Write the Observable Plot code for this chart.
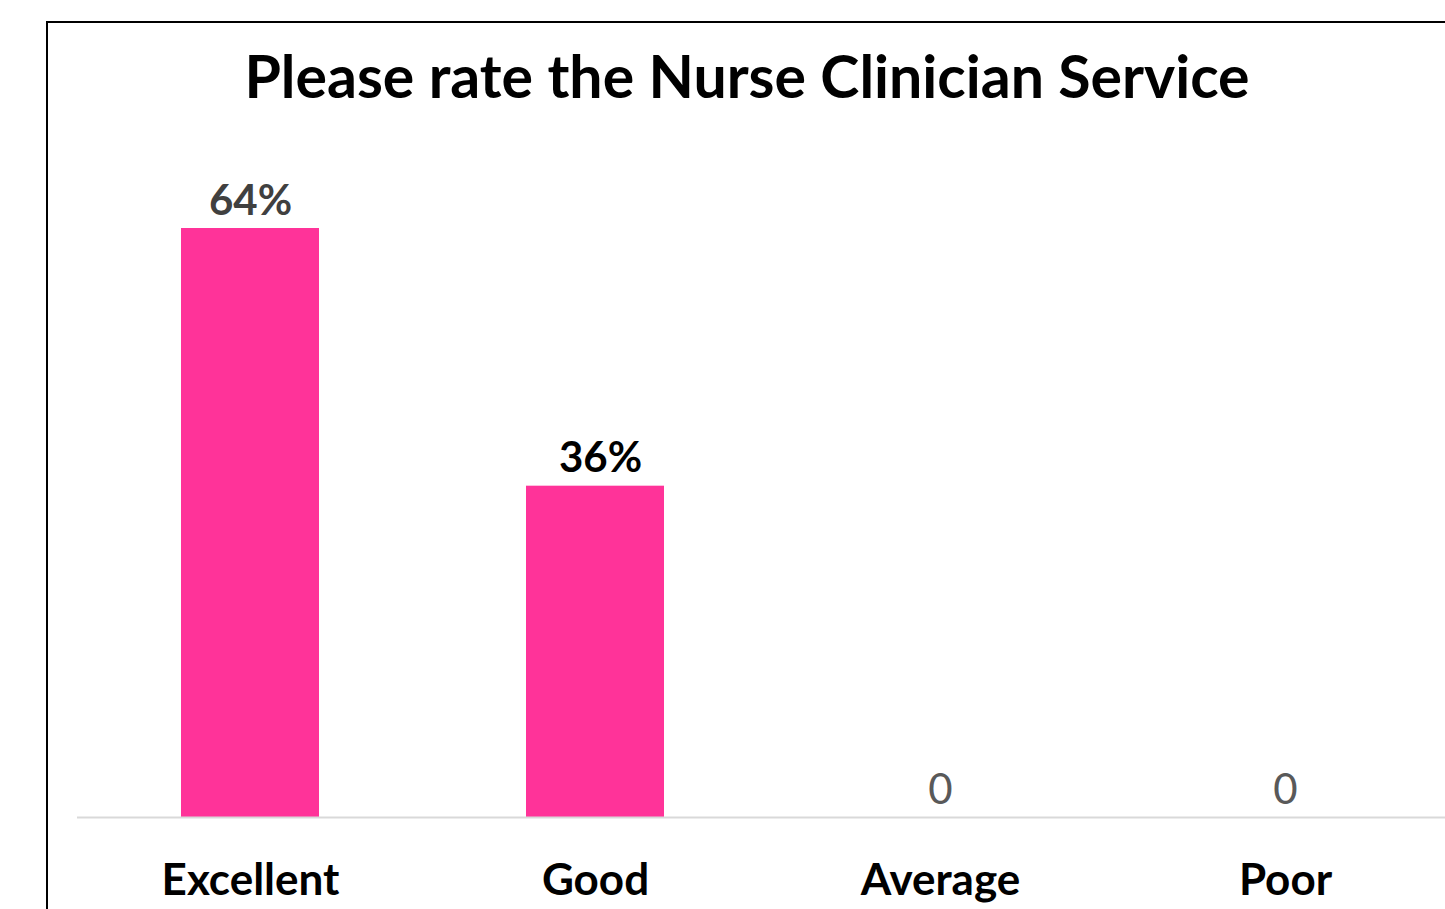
<!DOCTYPE html>
<html>
<head>
<meta charset="utf-8">
<script src="https://cdn.jsdelivr.net/npm/d3@7"></script>
<script src="https://cdn.jsdelivr.net/npm/@observablehq/plot@0.6"></script>
<style>
  html, body { margin: 0; padding: 0; background: #fff; overflow: hidden; }
  #wrap { position: relative; width: 1445px; height: 909px; overflow: hidden; }
  #frame { position: absolute; left: 46px; top: 21px; width: 1500px; height: 1000px; border: 2px solid #000; box-sizing: border-box; }
  #title { position: absolute; left: 0; width: 1494px; top: 41px; text-align: center; font-family: Lato, sans-serif; font-weight: 700; font-size: 59px; line-height: 70px; color: #000; }
  #chart { position: absolute; left: 0; top: 0; }
  #chart svg { overflow: hidden; }
</style>
</head>
<body>
<div id="wrap">
  <div id="frame"></div>
  <div id="chart"></div>
  <div id="title">Please rate the Nurse Clinician Service</div>
</div>
<script>
const categories = ["Excellent", "Good", "Average", "Poor"];
const values = [64, 36, 0, 0];

const data = categories.map((c, i) => ({cat: c, value: values[i]}));
const fmt = v => v ? v + "%" : "0";

const chart = Plot.plot({
  width: 1445,
  height: 909,
  marginTop: 0,
  marginLeft: 77,
  marginRight: 0,
  marginBottom: 92,
  style: {fontFamily: "Lato, sans-serif", background: "transparent", overflow: "hidden"},
  x: {domain: categories, range: [77, 1457], paddingInner: 0.6, paddingOuter: 0.3, label: null},
  y: {domain: [0, 64], range: [817, 228], axis: null},
  marks: [
    Plot.barY(data, {x: "cat", y: "value", fill: "#FF3399"}),
    Plot.ruleY([0], {stroke: "#d9d9d9", strokeWidth: 2}),
    Plot.text(data.filter(d => d.cat === "Excellent"), {
      x: "cat", y: "value", text: d => fmt(d.value),
      lineAnchor: "bottom", dy: -14,
      fontSize: 42, fontWeight: 700, fill: "#404040"
    }),
    Plot.text(data.filter(d => d.value > 0 && d.cat !== "Excellent"), {
      x: "cat", y: "value", text: d => fmt(d.value),
      lineAnchor: "bottom", dy: -14, dx: 5,
      fontSize: 42, fontWeight: 700, fill: "#000000"
    }),
    Plot.text(data.filter(d => d.value === 0), {
      x: "cat", y: "value", text: d => fmt(d.value),
      lineAnchor: "bottom", dy: -14,
      fontSize: 42, fontWeight: 400, fill: "#595959"
    }),
    Plot.axisX({tickSize: 0, tickPadding: 46, fontSize: 44, fontWeight: 700, fill: "#000", label: null})
  ]
});
document.getElementById("chart").appendChild(chart);
</script>
</body>
</html>
